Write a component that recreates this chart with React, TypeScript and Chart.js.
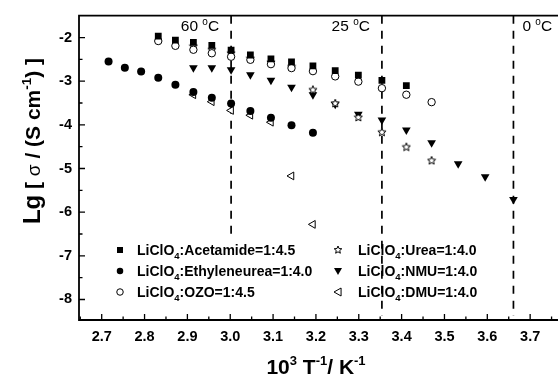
import React, { useEffect, useRef } from "react";
import { Chart, registerables } from "chart.js";

Chart.register(...registerables);

const FONT = "'Liberation Sans', Arial, Helvetica, sans-serif";

// ---- data (x = 10^3/T in K^-1, y = lg sigma) ----
const acetamideX = [2.832, 2.872, 2.914, 2.957, 3.002, 3.047, 3.095, 3.143, 3.193, 3.245, 3.299, 3.354, 3.411];
const acetamideY = [-1.97, -2.06, -2.11, -2.18, -2.29, -2.4, -2.49, -2.56, -2.65, -2.76, -2.86, -2.98, -3.1];

const ethyleneureaX = [2.716, 2.754, 2.792, 2.832, 2.872, 2.914, 2.957, 3.002, 3.047, 3.095, 3.143, 3.193];
const ethyleneureaY = [-2.55, -2.69, -2.78, -2.92, -3.08, -3.25, -3.38, -3.51, -3.68, -3.84, -4.01, -4.18];

const ozoX = [2.832, 2.872, 2.914, 2.957, 3.002, 3.047, 3.095, 3.143, 3.193, 3.245, 3.299, 3.354, 3.411, 3.47];
const ozoY = [-2.08, -2.19, -2.28, -2.36, -2.44, -2.51, -2.61, -2.7, -2.77, -2.89, -3.01, -3.16, -3.31, -3.48];

const ureaX = [2.914, 2.957, 3.002, 3.047, 3.095, 3.143, 3.193, 3.245, 3.299, 3.354, 3.411, 3.47];
const ureaY = [-2.19, -2.27, -2.35, -2.47, -2.56, -2.66, -3.19, -3.5, -3.82, -4.16, -4.5, -4.81];

const nmuX = [2.914, 2.957, 3.002, 3.047, 3.095, 3.143, 3.193, 3.245, 3.299, 3.354, 3.411, 3.47, 3.532, 3.595, 3.661];
const nmuY = [-2.69, -2.69, -2.74, -2.85, -2.98, -3.14, -3.31, -3.53, -3.76, -3.89, -4.12, -4.41, -4.89, -5.19, -5.71];

const dmuX = [2.914, 2.957, 3.002, 3.047, 3.095, 3.143, 3.193];
const dmuY = [-3.31, -3.47, -3.67, -3.78, -3.94, -5.17, -6.28];

const xTickValues = [2.7, 2.8, 2.9, 3.0, 3.1, 3.2, 3.3, 3.4, 3.5, 3.6, 3.7];
const yTickValues = [-8, -7, -6, -5, -4, -3, -2];

const tempLineX = [3.002, 3.354, 3.661];
const tempLineLabels = ["60", "25", "0"];

const legendNames = [
  ":Acetamide=1:4.5",
  ":Ethyleneurea=1:4.0",
  ":OZO=1:4.5",
  ":Urea=1:4.0",
  ":NMU=1:4.0",
  ":DMU=1:4.0",
];

type Part = { t: string; font: string; dy?: number };

function richWidth(ctx: CanvasRenderingContext2D, parts: Part[]) {
  let w = 0;
  for (const p of parts) {
    ctx.font = p.font;
    w += ctx.measureText(p.t).width;
  }
  return w;
}

function drawRich(ctx: CanvasRenderingContext2D, parts: Part[], x: number, y: number, align: string) {
  const w = richWidth(ctx, parts);
  let cx = align === "center" ? x - w / 2 : align === "right" ? x - w : x;
  ctx.textAlign = "left";
  ctx.textBaseline = "alphabetic";
  for (const p of parts) {
    ctx.font = p.font;
    ctx.fillText(p.t, cx, y + (p.dy || 0));
    cx += ctx.measureText(p.t).width;
  }
}

function makeStar(size: number) {
  const c = document.createElement("canvas");
  c.width = size;
  c.height = size;
  const ctx = c.getContext("2d")!;
  const cx = size / 2;
  const cy = size / 2 + 0.5;
  const R = size / 2 - 0.7;
  const r = R * 0.45;
  ctx.beginPath();
  for (let i = 0; i < 10; i++) {
    const a = -Math.PI / 2 + (i * Math.PI) / 5;
    const rr = i % 2 ? r : R;
    ctx.lineTo(cx + rr * Math.cos(a), cy + rr * Math.sin(a));
  }
  ctx.closePath();
  ctx.fillStyle = "#fff";
  ctx.fill();
  ctx.strokeStyle = "#000";
  ctx.lineWidth = 1;
  ctx.stroke();
  return c;
}

type MarkerKind = "square" | "dot" | "ring" | "star" | "down" | "left";

function drawMarker(ctx: CanvasRenderingContext2D, kind: MarkerKind, x: number, y: number, s: number) {
  ctx.save();
  ctx.fillStyle = "#000";
  ctx.strokeStyle = "#000";
  ctx.lineWidth = 1;
  ctx.beginPath();
  if (kind === "square") {
    ctx.fillRect(x - s / 2, y - s / 2, s, s);
  } else if (kind === "dot") {
    ctx.arc(x, y, s / 2, 0, Math.PI * 2);
    ctx.fill();
  } else if (kind === "ring") {
    ctx.arc(x, y, s / 2, 0, Math.PI * 2);
    ctx.fillStyle = "#fff";
    ctx.fill();
    ctx.stroke();
  } else if (kind === "star") {
    const R = s / 2;
    const r = R * 0.45;
    for (let i = 0; i < 10; i++) {
      const a = -Math.PI / 2 + (i * Math.PI) / 5;
      const rr = i % 2 ? r : R;
      ctx.lineTo(x + rr * Math.cos(a), y + rr * Math.sin(a));
    }
    ctx.closePath();
    ctx.fillStyle = "#fff";
    ctx.fill();
    ctx.stroke();
  } else if (kind === "down") {
    ctx.moveTo(x - s / 2, y - s / 2.6);
    ctx.lineTo(x + s / 2, y - s / 2.6);
    ctx.lineTo(x, y + s / 2);
    ctx.closePath();
    ctx.fill();
  } else if (kind === "left") {
    ctx.moveTo(x - s / 2, y);
    ctx.lineTo(x + s / 2.6, y - s / 2);
    ctx.lineTo(x + s / 2.6, y + s / 2);
    ctx.closePath();
    ctx.fillStyle = "#fff";
    ctx.fill();
    ctx.stroke();
  }
  ctx.restore();
}

const legendKinds: MarkerKind[] = ["square", "dot", "ring", "star", "down", "left"];

const decorPlugin = {
  id: "decor",
  beforeDatasetsDraw(chart: any) {
    const { ctx, chartArea: a, scales } = chart;
    const x = scales.x;
    ctx.save();
    // dashed temperature lines
    ctx.strokeStyle = "#000";
    ctx.lineWidth = 1.7;
    ctx.setLineDash([8, 7]);
    tempLineX.forEach((v, i) => {
      const px = x.getPixelForValue(v);
      const bottom = i === 0 ? 236 : a.bottom - 4;
      ctx.beginPath();
      ctx.moveTo(px, a.top);
      ctx.lineTo(px, bottom);
      ctx.stroke();
    });
    ctx.setLineDash([]);
    // temperature labels
    ctx.fillStyle = "#000";
    tempLineX.forEach((v, i) => {
      const px = x.getPixelForValue(v);
      const parts: Part[] = [
        { t: tempLineLabels[i] + " ", font: `15.5px ${FONT}` },
        { t: "o", font: `10px ${FONT}`, dy: -6 },
        { t: "C", font: `15.5px ${FONT}` },
      ];
      if (i === 2) drawRich(ctx, parts, px + 9, 31, "left");
      else drawRich(ctx, parts, px - 12, 31, "right");
    });
    ctx.restore();
  },
  afterDraw(chart: any) {
    const { ctx, chartArea: a, scales } = chart;
    const x = scales.x;
    const y = scales.y;
    ctx.save();
    ctx.strokeStyle = "#000";
    ctx.lineWidth = 1.8;
    ctx.beginPath();
    ctx.moveTo(chart.width, a.top);
    ctx.lineTo(a.left, a.top);
    ctx.lineTo(a.left, a.bottom);
    ctx.lineTo(chart.width, a.bottom);
    ctx.stroke();
    // inward ticks
    ctx.lineWidth = 1.3;
    ctx.beginPath();
    xTickValues.forEach((v) => {
      const px = x.getPixelForValue(v);
      ctx.moveTo(px, a.bottom);
      ctx.lineTo(px, a.bottom - 6);
      [v - 0.05, v + 0.05].forEach((m) => {
        if (m > x.min && m < x.max) {
          const mx = x.getPixelForValue(m);
          ctx.moveTo(mx, a.bottom);
          ctx.lineTo(mx, a.bottom - 3.5);
        }
      });
    });
    yTickValues.forEach((v) => {
      const py = y.getPixelForValue(v);
      ctx.moveTo(a.left, py);
      ctx.lineTo(a.left + 6, py);
      [v - 0.5, v + 0.5].forEach((m) => {
        if (m > y.min && m < y.max) {
          const my = y.getPixelForValue(m);
          ctx.moveTo(a.left, my);
          ctx.lineTo(a.left + 3.5, my);
        }
      });
    });
    ctx.stroke();

    ctx.fillStyle = "#000";
    // x title
    drawRich(
      ctx,
      [
        { t: "10", font: `bold 21px ${FONT}` },
        { t: "3", font: `bold 13px ${FONT}`, dy: -9 },
        { t: " T", font: `bold 21px ${FONT}` },
        { t: "-1", font: `bold 13px ${FONT}`, dy: -9 },
        { t: "/ K", font: `bold 21px ${FONT}` },
        { t: "-1", font: `bold 13px ${FONT}`, dy: -9 },
      ],
      316,
      374,
      "center"
    );
    // y title
    ctx.save();
    ctx.translate(32, 141);
    ctx.rotate(-Math.PI / 2);
    drawRich(
      ctx,
      [
        { t: "Lg", font: `bold 24px ${FONT}` },
        { t: " [ ", font: `bold 21px ${FONT}` },
        { t: "σ", font: `19px ${FONT}` },
        { t: " / (S cm", font: `bold 21px ${FONT}` },
        { t: "-1", font: `bold 13.5px ${FONT}`, dy: -9.5 },
        { t: ") ]", font: `bold 21px ${FONT}` },
      ],
      0,
      8,
      "center"
    );
    ctx.restore();

    // legend
    const colMarker = [120, 338];
    const colText = [137, 358];
    const rows = [250, 271, 292];
    legendNames.forEach((name, i) => {
      const col = Math.floor(i / 3);
      const row = i % 3;
      const my = rows[row];
      const ms = legendKinds[i] === "ring" || legendKinds[i] === "dot" ? 6.5 : legendKinds[i] === "square" ? 6 : 8;
      drawMarker(ctx, legendKinds[i], colMarker[col], my, ms);
      ctx.fillStyle = "#000";
      drawRich(
        ctx,
        [
          { t: "LiClO", font: `bold 14px ${FONT}` },
          { t: "4", font: `bold 9.5px ${FONT}`, dy: 4 },
          { t: name, font: `bold 14px ${FONT}` },
        ],
        colText[col],
        my + 5,
        "left"
      );
    });
    ctx.restore();
  },
};

const pts = (xs: number[], ys: number[]) => xs.map((v, i) => ({ x: v, y: ys[i] }));

export default function App() {
  const ref = useRef<HTMLCanvasElement>(null);
  useEffect(() => {
    const canvas = ref.current;
    if (!canvas) return;
    const star = makeStar(10);
    const chart = new Chart(canvas, {
      type: "scatter",
      data: {
        datasets: [
          { label: "Acetamide", data: pts(acetamideX, acetamideY), pointStyle: "rect", pointRadius: 4.8, backgroundColor: "#000", borderColor: "#000", borderWidth: 0 },
          { label: "Ethyleneurea", data: pts(ethyleneureaX, ethyleneureaY), pointStyle: "circle", pointRadius: 4, backgroundColor: "#000", borderColor: "#000", borderWidth: 0 },
          { label: "OZO", data: pts(ozoX, ozoY), pointStyle: "circle", pointRadius: 3.7, backgroundColor: "#fff", borderColor: "#000", borderWidth: 1 },
          { label: "Urea", data: pts(ureaX, ureaY), pointStyle: star as any, pointRadius: 5, backgroundColor: "#fff", borderColor: "#000", borderWidth: 1 },
          { label: "NMU", data: pts(nmuX, nmuY), pointStyle: "triangle", rotation: 180, pointRadius: 5, backgroundColor: "#000", borderColor: "#000", borderWidth: 0 },
          { label: "DMU", data: pts(dmuX, dmuY), pointStyle: "triangle", rotation: 270, pointRadius: 4.5, backgroundColor: "#fff", borderColor: "#000", borderWidth: 1 },
        ] as any,
      },
      options: {
        animation: false,
        responsive: false,
        devicePixelRatio: 1,
        events: [],
        layout: { padding: { top: 10, right: 0, left: 0, bottom: 0 } },
        plugins: { legend: { display: false }, tooltip: { enabled: false } },
        scales: {
          x: {
            type: "linear",
            min: 2.647,
            max: 3.751,
            grid: { display: false, drawTicks: false },
            border: { display: false },
            afterBuildTicks: (scale: any) => {
              scale.ticks = xTickValues.map((v) => ({ value: v }));
            },
            afterFit: (scale: any) => {
              scale.height = 64;
            },
            ticks: {
              padding: 8,
              color: "#000",
              font: { family: FONT, size: 14.5, weight: "bold" },
              callback: (v: any) => Number(v).toFixed(1),
              maxRotation: 0,
              autoSkip: false,
            },
          },
          y: {
            type: "linear",
            min: -8.47,
            max: -1.5,
            grid: { display: false, drawTicks: false },
            border: { display: false },
            afterBuildTicks: (scale: any) => {
              scale.ticks = yTickValues.map((v) => ({ value: v }));
            },
            afterFit: (scale: any) => {
              scale.width = 79;
            },
            ticks: {
              padding: 7,
              color: "#000",
              font: { family: FONT, size: 14.5, weight: "bold" },
              callback: (v: any) => String(v),
              autoSkip: false,
            },
          },
        },
      } as any,
      plugins: [decorPlugin],
    });
    return () => chart.destroy();
  }, []);
  return (
    <div style={{ position: "absolute", left: 0, top: 0, width: 558, height: 384, background: "#fff" }}>
      <canvas ref={ref} width={558} height={384} style={{ display: "block" }} />
    </div>
  );
}
